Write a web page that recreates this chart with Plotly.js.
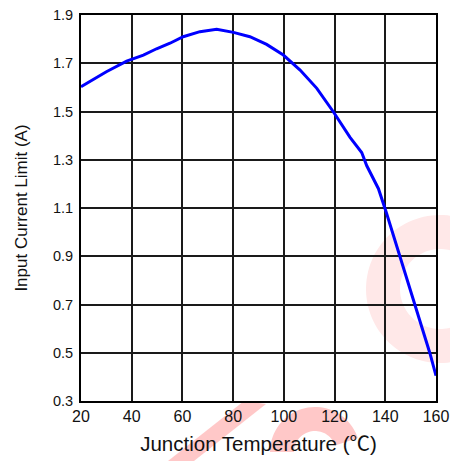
<!DOCTYPE html>
<html>
<head>
<meta charset="utf-8">
<script src="https://cdn.plot.ly/plotly-3.0.1.min.js"></script>
<style>html,body{margin:0;padding:0;background:#fff;}</style>
</head>
<body>
<div id="chart" style="width:450px;height:461px;"></div>
<script>
// Data
const temperature = [20, 24, 30, 38, 44.6, 49.8, 55.1, 60.3, 66.9, 73.5, 80.1, 86.6, 93.2, 99.8, 106.4, 113, 119.5, 126.1, 130.7, 132.7, 137.3, 140.5, 145.8, 152.4, 157.6, 160];
const currentLimit = [1.603, 1.628, 1.665, 1.709, 1.734, 1.760, 1.783, 1.810, 1.831, 1.841, 1.828, 1.810, 1.778, 1.734, 1.672, 1.596, 1.499, 1.393, 1.330, 1.275, 1.180, 1.078, 0.898, 0.677, 0.498, 0.405];
const xTicks = [20, 40, 60, 80, 100, 120, 140, 160];
const yTicks = [0.3, 0.5, 0.7, 0.9, 1.1, 1.3, 1.5, 1.7, 1.9];

// plot area in pixels: x 81..436, y 15..401
const L = 81, R = 436, T = 15, B = 401;
function px(x) { return (x - L) / (R - L); }
function py(y) { return (B - y) / (B - T); }
function ring(cx, cy, ro, ri, a0, a1, n) {
  const pts = [];
  for (let i = 0; i <= n; i++) { const a = a0 + (a1 - a0) * i / n; pts.push([cx + ro * Math.cos(a), cy + ro * Math.sin(a)]); }
  for (let i = n; i >= 0; i--) { const a = a0 + (a1 - a0) * i / n; pts.push([cx + ri * Math.cos(a), cy + ri * Math.sin(a)]); }
  return 'M' + pts.map(p => px(p[0]).toFixed(4) + ',' + py(p[1]).toFixed(4)).join(' L') + ' Z';
}
function poly(pts) {
  return 'M' + pts.map(p => px(p[0]).toFixed(4) + ',' + py(p[1]).toFixed(4)).join(' L') + ' Z';
}

const shapes = [
  { type: 'path', xref: 'paper', yref: 'paper', layer: 'below', line: { width: 0 }, fillcolor: '#ffe8e8',
    path: ring(440, 289, 74, 40, Math.PI * 0.35, Math.PI * 1.7, 80) },
  { type: 'path', xref: 'paper', yref: 'paper', layer: 'below', line: { width: 0 }, fillcolor: '#ffc8c8',
    path: ring(315, 452, 45, 21, Math.PI * 1.0, Math.PI * 1.9, 40) },
  { type: 'path', xref: 'paper', yref: 'paper', layer: 'below', line: { width: 0 }, fillcolor: '#ffc8c8',
    path: poly([[168, 461], [194, 461], [266, 404], [244, 401]]) }
];

const trace = {
  x: temperature, y: currentLimit, type: 'scatter', mode: 'lines',
  line: { color: '#0000ff', width: 3 }, hoverinfo: 'skip'
};

const fam = '"Liberation Sans", Arial, "Noto Sans CJK SC", sans-serif';
const layout = {
  width: 450, height: 461,
  margin: { l: L, r: 450 - R, t: T, b: 461 - B },
  paper_bgcolor: 'rgba(0,0,0,0)', plot_bgcolor: 'rgba(0,0,0,0)',
  showlegend: false,
  font: { family: fam, color: '#111' },
  shapes: shapes,
  xaxis: {
    range: [20, 160], tickvals: xTicks, ticktext: xTicks.map(String),
    showgrid: true, gridcolor: '#1a1a1a', gridwidth: 2,
    showline: true, linecolor: '#000', linewidth: 2, mirror: true,
    ticks: '', zeroline: false, tickfont: { size: 16, family: fam, color: '#111' },
    title: { text: 'Junction Temperature (<span style="font-family:\'Noto Sans CJK SC\'">℃</span>)', font: { size: 20.5, family: fam, color: '#111' }, standoff: 12 }
  },
  yaxis: {
    range: [0.3, 1.9], tickvals: yTicks, ticktext: yTicks.map(v => v.toFixed(1)),
    showgrid: true, gridcolor: '#1a1a1a', gridwidth: 2,
    showline: true, linecolor: '#000', linewidth: 2, mirror: true,
    ticks: '', zeroline: false, tickfont: { size: 14.5, family: fam, color: '#111' },
    ticklabelstandoff: 3,
    title: { text: 'Input Current Limit (A)', font: { size: 17, family: fam, color: '#111' }, standoff: 21 }
  }
};

Plotly.newPlot('chart', [trace], layout, { staticPlot: true, displayModeBar: false });
</script>
</body>
</html>
